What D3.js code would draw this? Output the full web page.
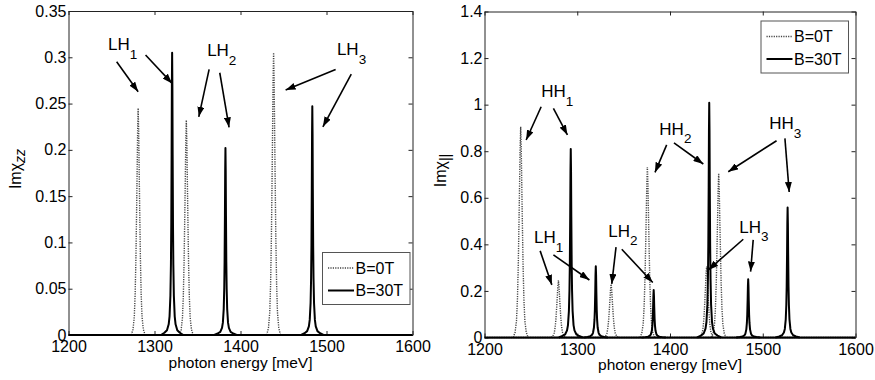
<!DOCTYPE html>
<html>
<head>
<meta charset="utf-8">
<script src="https://cdn.jsdelivr.net/npm/d3@7"></script>
<style>
  body { margin: 0; background: #fff; }
  svg { display: block; }
  text { font-family: "Liberation Sans", Arial, Helvetica, sans-serif; fill: #000; }
</style>
</head>
<body>
<svg id="drawing_region"></svg>
<script>
// ---- data ----
const energyTicks = [1200, 1300, 1400, 1500, 1600];
const energyTickLabels = ['1200', '1300', '1400', '1500', '1600'];
const zzTicks = [0, 0.05, 0.1, 0.15, 0.2, 0.25, 0.3, 0.35];
const zzTickLabels = ['0', '0.05', '0.1', '0.15', '0.2', '0.25', '0.3', '0.35'];
const parTicks = [0, 0.2, 0.4, 0.6, 0.8, 1, 1.2, 1.4];
const parTickLabels = ['0', '0.2', '0.4', '0.6', '0.8', '1', '1.2', '1.4'];
const seriesNames = ['B=0T', 'B=30T'];

// peaks: [centre meV, peak height]
const zzPeaks0T = [[1281, 0.245], [1337, 0.232], [1438.5, 0.305]];
const zzPeaks30T = [[1320.5, 0.305], [1382.5, 0.202], [1483.5, 0.247]];
const parPeaks0T = [[1239, 0.905], [1279.7, 0.246], [1336.5, 0.229], [1375.6, 0.732], [1439.5, 0.305], [1452.5, 0.705]];
const parPeaks30T = [[1293, 0.809], [1320, 0.306], [1382.4, 0.204], [1442.3, 1.008], [1484.3, 0.25], [1526.8, 0.558]];

// half line shapes: offset from centre (meV) and fraction of peak height
const shapeOffsets30T = [0, 0.3, 0.6, 1, 1.4, 2, 3, 4, 6, 9, 13];
const shapeValues30T = [1, 0.88, 0.64, 0.39, 0.25, 0.14, 0.066, 0.038, 0.017, 0.008, 0];
const shapeOffsets0T = [0, 0.6, 1.2, 1.8, 2.6, 3.5, 4.5, 6, 8];
const shapeValues0T = [1, 0.9, 0.72, 0.55, 0.34, 0.18, 0.08, 0.025, 0];

// annotations in data units: text anchor [meV, value], arrows [x1, y1, x2, y2]
const zzNotes = [
  { label: 'LH', sub: '1', at: [1245.9, 0.3078], arrows: [[1256, 0.2951, 1281, 0.2627], [1289.6, 0.3024, 1320.5, 0.2718]] },
  { label: 'LH', sub: '2', at: [1361.2, 0.3013], arrows: [[1363.5, 0.2869, 1351.5, 0.2357], [1375.9, 0.2833, 1386.7, 0.2243]] },
  { label: 'LH', sub: '3', at: [1512.1, 0.3024], arrows: [[1510.6, 0.2869, 1452.5, 0.2646], [1528.8, 0.2819, 1495.8, 0.2249]] }
];
const parNotes = [
  { label: 'HH', sub: '1', at: [1261.1, 1.031], arrows: [[1261.1, 0.991, 1244.9, 0.848], [1274.3, 0.984, 1289.4, 0.870]] },
  { label: 'HH', sub: '2', at: [1388.5, 0.870], arrows: [[1396.4, 0.827, 1383.8, 0.709], [1404.3, 0.836, 1435.9, 0.745]] },
  { label: 'HH', sub: '3', at: [1506.9, 0.894], arrows: [[1514.9, 0.845, 1462.8, 0.712], [1523.9, 0.855, 1528.5, 0.625]] },
  { label: 'LH', sub: '1', at: [1253.5, 0.405], arrows: [[1260, 0.372, 1272.6, 0.226], [1274.3, 0.355, 1313.1, 0.247]] },
  { label: 'LH', sub: '2', at: [1333.5, 0.433], arrows: [[1341.8, 0.388, 1337.2, 0.230], [1348, 0.379, 1381.4, 0.236]] },
  { label: 'LH', sub: '3', at: [1474.6, 0.450], arrows: [[1479, 0.422, 1441.3, 0.290], [1489.7, 0.419, 1486.9, 0.283]] }
];

const svg = d3.select('#drawing_region')
    .attr('width', 875)
    .attr('height', 380);

svg.append('defs').append('marker')
    .attr('id', 'arrow')
    .attr('markerUnits', 'userSpaceOnUse')
    .attr('viewBox', '0 0 10 7')
    .attr('markerWidth', 10)
    .attr('markerHeight', 7)
    .attr('refX', 10)
    .attr('refY', 3.5)
    .attr('orient', 'auto')
  .append('path')
    .attr('d', 'M0,0 L10,3.5 L0,7 Z')
    .attr('fill', '#000');

class SpectrumPanel {

    constructor( config, data ) {
        this.config = config;
        this.data = data;
        this.init();
    }

    init() {
        let self = this;
        let c = self.config;

        self.chart = svg.append('g');

        self.xscale = d3.scaleLinear()
            .domain([1200, 1600])
            .range([c.left, c.right]);

        self.yscale = d3.scaleLinear()
            .domain([0, c.ymax])
            .range([c.bottom, c.top]);

        self.line = d3.line()
            .x( d => self.xscale(d[0]) )
            .y( d => self.yscale(d[1]) );
    }

    peakPoints( peak, offsets, values ) {
        let pts = [];
        for (let i = offsets.length - 1; i > 0; i--) pts.push([peak[0] - offsets[i], peak[1] * values[i]]);
        for (let i = 0; i < offsets.length; i++) pts.push([peak[0] + offsets[i], peak[1] * values[i]]);
        return pts;
    }

    render() {
        let self = this;
        let c = self.config;
        let d = self.data;

        // axes, ticks inside on all four sides
        const styleAxis = g => {
            g.attr('color', '#222');
            g.selectAll('text').style('font-size', '16px').attr('fill', '#000');
        };
        self.chart.append('g')
            .attr('transform', `translate(0, ${c.bottom})`)
            .call( d3.axisBottom(self.xscale).tickValues(energyTicks)
                .tickFormat( (v, i) => energyTickLabels[i] )
                .tickSize(-4).tickSizeOuter(0).tickPadding(6) )
            .call(styleAxis);
        self.chart.append('g')
            .attr('transform', `translate(0, ${c.top})`)
            .call( d3.axisTop(self.xscale).tickValues(energyTicks)
                .tickFormat('').tickSize(-4).tickSizeOuter(0) )
            .call(styleAxis);
        self.chart.append('g')
            .attr('transform', `translate(${c.left}, 0)`)
            .call( d3.axisLeft(self.yscale).tickValues(d.ticks)
                .tickFormat( (v, i) => d.tickLabels[i] )
                .tickSize(-4).tickSizeOuter(0).tickPadding(2) )
            .call(styleAxis);
        self.chart.append('g')
            .attr('transform', `translate(${c.right}, 0)`)
            .call( d3.axisRight(self.yscale).tickValues(d.ticks)
                .tickFormat('').tickSize(-4).tickSizeOuter(0) )
            .call(styleAxis);

        // B=0T dotted
        self.chart.append('path')
            .attr('d', self.line([[1200, 0], [1600, 0]]))
            .attr('fill', 'none').attr('stroke', '#444').attr('stroke-width', 1.4)
            .attr('stroke-dasharray', '1.2,1.2');
        self.chart.selectAll('.p0')
            .data(d.peaks0T)
            .enter()
            .append('path')
            .attr('class', 'p0')
            .attr('d', p => self.line(self.peakPoints(p, shapeOffsets0T, shapeValues0T)))
            .attr('fill', 'none').attr('stroke', '#444').attr('stroke-width', 1.4)
            .attr('stroke-dasharray', '1.2,1.2');

        // B=30T solid
        self.chart.append('path')
            .attr('d', self.line([[1200, 0], [1600, 0]]))
            .attr('fill', 'none').attr('stroke', '#000').attr('stroke-width', 2);
        self.chart.selectAll('.p30')
            .data(d.peaks30T)
            .enter()
            .append('path')
            .attr('class', 'p30')
            .attr('d', p => self.line(self.peakPoints(p, shapeOffsets30T, shapeValues30T)))
            .attr('fill', 'none').attr('stroke', '#000').attr('stroke-width', 2)
            .attr('stroke-linejoin', 'round');

        // annotations
        d.notes.forEach( n => {
            let t = self.chart.append('text')
                .attr('x', self.xscale(n.at[0]))
                .attr('y', self.yscale(n.at[1]))
                .style('font-size', '17px');
            t.append('tspan').text(n.label);
            t.append('tspan').attr('dy', 8.5).style('font-size', '13.5px').text(n.sub);
            n.arrows.forEach( a => {
                self.chart.append('line')
                    .attr('x1', self.xscale(a[0])).attr('y1', self.yscale(a[1]))
                    .attr('x2', self.xscale(a[2])).attr('y2', self.yscale(a[3]))
                    .attr('stroke', '#000').attr('stroke-width', 1.6)
                    .attr('marker-end', 'url(#arrow)');
            });
        });

        // axis labels
        self.chart.append('text')
            .attr('x', (c.left + c.right) / 2)
            .attr('y', c.bottom + c.xlabelGap)
            .attr('text-anchor', 'middle')
            .style('font-size', '15.5px')
            .text('photon energy [meV]');

        let yl = self.chart.append('text')
            .attr('transform', `translate(${c.ylabelX}, ${(c.top + c.bottom) / 2 - 4}) rotate(-90)`)
            .attr('text-anchor', 'middle')
            .style('font-size', '16px');
        yl.append('tspan').text('Im\u03c7');
        yl.append('tspan').attr('dy', 4).style('font-size', '14px')
            .style('font-style', d.ysubItalic ? 'italic' : 'normal').text(d.ysub);

        // legend
        let lg = self.chart.append('g').attr('transform', `translate(${c.legend[0]}, ${c.legend[1]})`);
        lg.append('rect')
            .attr('width', 87.5).attr('height', 52)
            .attr('fill', '#fff').attr('stroke', '#555').attr('stroke-width', 1);
        seriesNames.forEach( (name, i) => {
            let yy = 15.5 + i * 22.5;
            lg.append('line')
                .attr('x1', 5.5).attr('x2', 31.5).attr('y1', yy).attr('y2', yy)
                .attr('stroke', i === 0 ? '#444' : '#000')
                .attr('stroke-width', i === 0 ? 1.4 : 2)
                .attr('stroke-dasharray', i === 0 ? '1.2,1.2' : null);
            lg.append('text')
                .attr('x', 33).attr('y', yy).attr('dy', '0.36em')
                .style('font-size', '16px')
                .text(name);
        });
    }
}

const leftPanel = new SpectrumPanel(
    { left: 68.5, right: 412.5, top: 11, bottom: 335, ymax: 0.35, xlabelGap: 32.5, ylabelX: 21, legend: [322.5, 252.5] },
    { ticks: zzTicks, tickLabels: zzTickLabels, peaks0T: zzPeaks0T, peaks30T: zzPeaks30T, notes: zzNotes, ysub: 'zz', ysubItalic: true }
);
leftPanel.render();

const rightPanel = new SpectrumPanel(
    { left: 484.5, right: 855.5, top: 11.5, bottom: 337.5, ymax: 1.4, xlabelGap: 32.5, ylabelX: 445.5, legend: [761, 21] },
    { ticks: parTicks, tickLabels: parTickLabels, peaks0T: parPeaks0T, peaks30T: parPeaks30T, notes: parNotes, ysub: '||', ysubItalic: false }
);
rightPanel.render();
</script>
</body>
</html>
